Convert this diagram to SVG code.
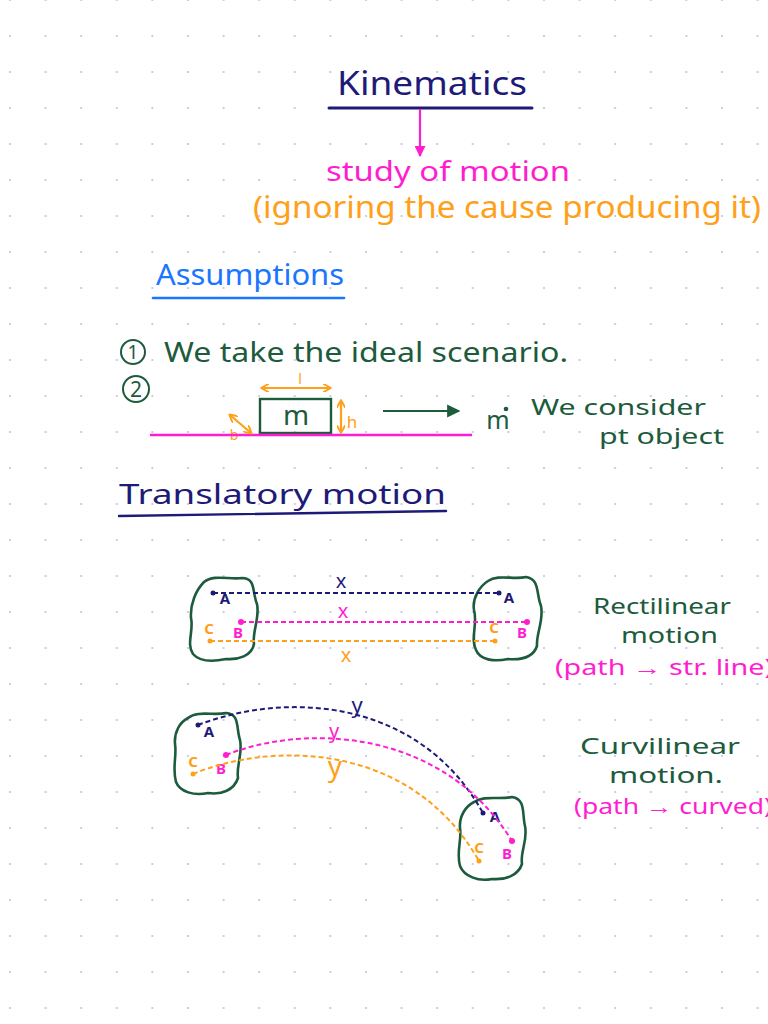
<svg xmlns="http://www.w3.org/2000/svg" width="768" height="1024" viewBox="0 0 768 1024">
<defs>
<pattern id="grid" patternUnits="userSpaceOnUse" x="0" y="18" width="35.6" height="36">
<circle cx="10" cy="18" r="1.1" fill="#b8c5de"/>
</pattern>
<marker id="headPink" viewBox="0 0 10 10" refX="9" refY="5" markerWidth="5" markerHeight="5" orient="auto" markerUnits="strokeWidth">
<path d="M0,0 L10,5 L0,10 Z" fill="#ff1ecf"/>
</marker>
<marker id="headGreen" viewBox="0 0 10 10" refX="9" refY="5" markerWidth="6" markerHeight="6" orient="auto" markerUnits="strokeWidth">
<path d="M0,0 L10,5 L0,10 Z" fill="#1d5b3d"/>
</marker>
<marker id="headOrange" viewBox="0 0 10 10" refX="8" refY="5" markerWidth="4" markerHeight="4" orient="auto-start-reverse" markerUnits="strokeWidth">
<path d="M0,0 L9,5 L0,10" fill="none" stroke="#ffa01a" stroke-width="2.2" stroke-linecap="round" stroke-linejoin="round"/>
</marker>
</defs>
<style>
.t{font-family:"Noto Sans","Open Sans",sans-serif;}
.navy{fill:#1e1b78;}
.pink{fill:#ff1ecf;}
.orange{fill:#ffa01a;}
.green{fill:#1d5b3d;}
.blue{fill:#1a75ff;}
.lbl{font-family:"Noto Sans",sans-serif;font-size:15px;font-weight:bold;}
.blob{fill:none;stroke:#1d5b3d;stroke-width:2.6;stroke-linejoin:round;}
.dash{fill:none;stroke-width:2;stroke-dasharray:5 3;}
.sn{stroke:#1e1b78;}
.sp{stroke:#ff1ecf;}
.so{stroke:#ffa01a;}
</style>
<rect width="768" height="1024" fill="#ffffff"/>
<rect width="768" height="1024" fill="url(#grid)"/>

<g id="kinematics">
<text class="t navy" x="337" y="95" font-size="32" textLength="190" lengthAdjust="spacingAndGlyphs">Kinematics</text>
<line x1="329" y1="108" x2="532" y2="108" stroke="#1e1b78" stroke-width="3" stroke-linecap="round"/>
</g>
<g id="study">
<text class="t pink" x="326" y="181" font-size="28" textLength="244" lengthAdjust="spacingAndGlyphs">study of motion</text>
<text class="t orange" x="253" y="218" font-size="30" textLength="508" lengthAdjust="spacingAndGlyphs">(ignoring the cause producing it)</text>
</g>
<g id="assumptions">
<text class="t blue" x="156" y="285" font-size="29" textLength="188" lengthAdjust="spacingAndGlyphs">Assumptions</text>
<line x1="153" y1="298" x2="344" y2="298" stroke="#1a75ff" stroke-width="2.6" stroke-linecap="round"/>
</g>
<g id="item1">
<circle cx="133" cy="352" r="12" fill="none" stroke="#1d5b3d" stroke-width="2"/>
<text class="t green" x="133" y="359" font-size="19" text-anchor="middle">1</text>
<text class="t green" x="164" y="362" font-size="27" textLength="404" lengthAdjust="spacingAndGlyphs">We take the ideal scenario.</text>
</g>
<g id="item2">
<circle cx="136" cy="389" r="13" fill="none" stroke="#1d5b3d" stroke-width="2"/>
<text class="t green" x="136" y="397" font-size="21" text-anchor="middle">2</text>
</g>
<g id="block">
<rect x="260" y="399" width="71" height="34" fill="none" stroke="#1d5b3d" stroke-width="2.4"/>
<text class="t green" x="296" y="425" font-size="28" text-anchor="middle">m</text>
<text class="t orange" x="300" y="384" font-size="14" text-anchor="middle">l</text>
<text class="t orange" x="352" y="428" font-size="17" text-anchor="middle">h</text>
<text class="t orange" x="234" y="440" font-size="14" text-anchor="middle">b</text>
</g>
<g id="point-object">
<text class="t green" x="498" y="429" font-size="25" text-anchor="middle">m</text>
<circle cx="506" cy="409" r="2.3" fill="#1d5b3d"/>
<text class="t green" x="531" y="415" font-size="22" textLength="175" lengthAdjust="spacingAndGlyphs">We consider</text>
<text class="t green" x="599" y="444" font-size="21" textLength="125" lengthAdjust="spacingAndGlyphs">pt object</text>
</g>
<g id="translatory">
<text class="t navy" x="119" y="504" font-size="28" textLength="327" lengthAdjust="spacingAndGlyphs">Translatory motion</text>
<path d="M119,516 L446,511" stroke="#1e1b78" stroke-width="2.4" fill="none" stroke-linecap="round"/>
</g>

<g id="rect-body-left">
<path class="blob" d="M204,582 C214,574 230,580 242,578 C256,578 252,592 257,604 C260,618 252,632 254,644 C252,656 238,660 226,659 C212,662 200,662 193,654 C186,644 194,630 191,618 C190,604 196,590 204,582 Z"/>
</g>
<g id="rect-body-right">
<path class="blob" d="M488,581 C498,574 514,580 526,577 C540,579 536,594 541,606 C544,620 536,634 537,646 C533,658 520,660 508,659 C494,662 480,660 476,650 C470,638 478,624 474,610 C472,598 480,586 488,581 Z"/>
</g>
<g id="curve-body-left">
<path class="blob" d="M188,718 C198,710 214,716 226,713 C240,714 236,728 240,740 C243,754 236,766 238,778 C234,790 222,795 208,793 C194,796 180,792 176,782 C172,768 177,756 175,744 C174,732 180,722 188,718 Z"/>
</g>
<g id="curve-body-right">
<path class="blob" d="M474,802 C484,795 500,800 512,797 C526,799 522,814 525,826 C528,840 520,852 522,864 C518,876 505,880 492,879 C478,882 464,876 460,866 C456,852 462,840 460,828 C459,816 466,806 474,802 Z"/>
</g>

<g id="labels">
<circle cx="213" cy="593" r="2.5" fill="#1e1b78"/>
<circle cx="499" cy="593" r="2.5" fill="#1e1b78"/>
<circle cx="241" cy="622" r="3" fill="#ff1ecf"/>
<circle cx="527" cy="622" r="3" fill="#ff1ecf"/>
<circle cx="210" cy="641" r="2.5" fill="#ffa01a"/>
<circle cx="495" cy="641" r="2.5" fill="#ffa01a"/>
<text class="lbl navy" x="225" y="604" text-anchor="middle">A</text>
<text class="lbl navy" x="509" y="603" text-anchor="middle">A</text>
<text class="lbl orange" x="209" y="634" text-anchor="middle">C</text>
<text class="lbl pink" x="238" y="638" text-anchor="middle">B</text>
<text class="lbl orange" x="494" y="633" text-anchor="middle">C</text>
<text class="lbl pink" x="522" y="638" text-anchor="middle">B</text>
<text class="t navy" x="341" y="588" font-size="20" text-anchor="middle">x</text>
<text class="t pink" x="343" y="618" font-size="20" text-anchor="middle">x</text>
<text class="t orange" x="346" y="662" font-size="20" text-anchor="middle">x</text>

<circle cx="198" cy="725" r="2.5" fill="#1e1b78"/>
<circle cx="483" cy="813" r="2.5" fill="#1e1b78"/>
<circle cx="226" cy="755" r="3" fill="#ff1ecf"/>
<circle cx="512" cy="841" r="3" fill="#ff1ecf"/>
<circle cx="193" cy="774" r="2.5" fill="#ffa01a"/>
<circle cx="479" cy="861" r="2.5" fill="#ffa01a"/>
<text class="lbl navy" x="209" y="737" text-anchor="middle">A</text>
<text class="lbl navy" x="495" y="822" text-anchor="middle">A</text>
<text class="lbl orange" x="193" y="767" text-anchor="middle">C</text>
<text class="lbl pink" x="221" y="774" text-anchor="middle">B</text>
<text class="lbl orange" x="479" y="853" text-anchor="middle">C</text>
<text class="lbl pink" x="507" y="859" text-anchor="middle">B</text>
<text class="t navy" x="357" y="713" font-size="22" text-anchor="middle">y</text>
<text class="t pink" x="334" y="738" font-size="20" text-anchor="middle">y</text>
<text class="t orange" x="335" y="776" font-size="28" text-anchor="middle">y</text>
</g>

<g id="side-notes">
<text class="t green" x="593" y="614" font-size="21" textLength="138" lengthAdjust="spacingAndGlyphs">Rectilinear</text>
<text class="t green" x="621" y="643" font-size="21" textLength="97" lengthAdjust="spacingAndGlyphs">motion</text>
<text class="t pink" x="555" y="675" font-size="22" textLength="218" lengthAdjust="spacingAndGlyphs">(path → str. line)</text>
<text class="t green" x="580" y="754" font-size="21" textLength="160" lengthAdjust="spacingAndGlyphs">Curvilinear</text>
<text class="t green" x="609" y="783" font-size="21" textLength="114" lengthAdjust="spacingAndGlyphs">motion.</text>
<text class="t pink" x="574" y="814" font-size="22" textLength="198" lengthAdjust="spacingAndGlyphs">(path → curved)</text>
</g>

<g id="connectors">
<line x1="420" y1="109" x2="420" y2="156" stroke="#ff1ecf" stroke-width="2.2" marker-end="url(#headPink)"/>
<line x1="150" y1="435" x2="472" y2="435" stroke="#ff1ecf" stroke-width="2.4"/>
<line x1="383" y1="411" x2="459" y2="411" stroke="#1d5b3d" stroke-width="2.2" marker-end="url(#headGreen)"/>
<line x1="262" y1="388" x2="330" y2="388" stroke="#ffa01a" stroke-width="2.2" marker-start="url(#headOrange)" marker-end="url(#headOrange)"/>
<line x1="341" y1="401" x2="341" y2="432" stroke="#ffa01a" stroke-width="2.2" marker-start="url(#headOrange)" marker-end="url(#headOrange)"/>
<line x1="230" y1="415" x2="251" y2="433" stroke="#ffa01a" stroke-width="2.2" marker-start="url(#headOrange)" marker-end="url(#headOrange)"/>
<path class="dash sn" d="M213,593 L499,593"/>
<path class="dash sp" d="M241,622 L527,622"/>
<path class="dash so" d="M210,641 L495,641"/>
<path class="dash sn" d="M198,725 C290,690 420,700 483,813"/>
<path class="dash sp" d="M226,755 C300,725 440,725 512,841"/>
<path class="dash so" d="M193,774 C270,742 410,740 479,861"/>
</g>
</svg>
